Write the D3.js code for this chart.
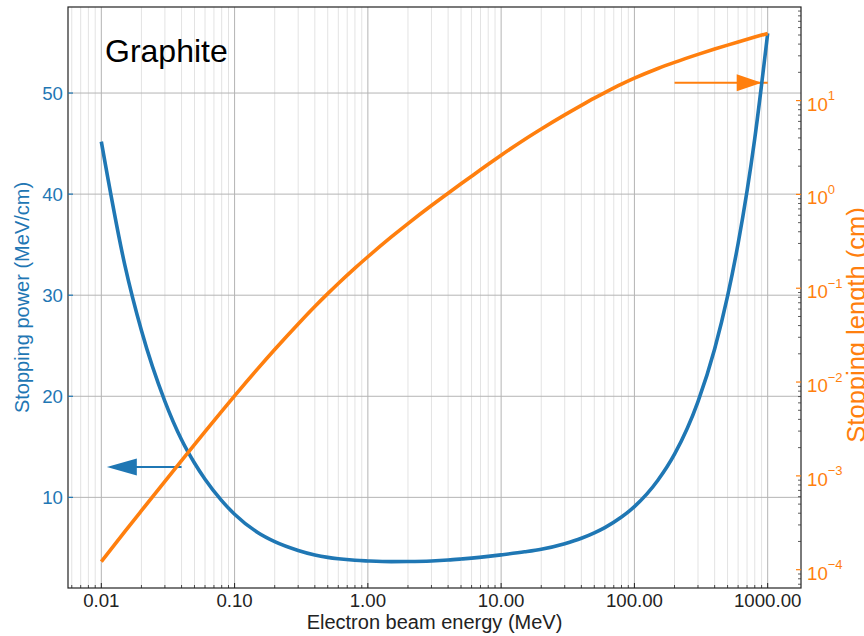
<!DOCTYPE html>
<html>
<head>
<meta charset="utf-8">
<script src="https://cdn.jsdelivr.net/npm/d3@7"></script>
<style>
  html, body { margin: 0; padding: 0; background: #fff; }
  svg { display: block; font-family: "Liberation Sans", Arial, sans-serif; }
</style>
</head>
<body>
<svg id="chart" width="864" height="636"></svg>
<script>
// ---- data ----
const energy = [0.01, 0.015, 0.02, 0.03, 0.04, 0.05, 0.06, 0.08, 0.1, 0.15, 0.2, 0.3, 0.4, 0.5, 0.6, 0.8,
  1, 1.5, 2, 3, 4, 5, 6, 8, 10, 15, 20, 30, 40, 50, 60, 80, 100, 150, 200, 300, 400, 500, 600, 800, 1000];
const stoppingPower = [45.2, 33.0, 26.5, 19.5, 15.7, 13.4, 11.8, 9.68, 8.33, 6.50, 5.62, 4.75, 4.30, 4.06, 3.92, 3.77,
  3.71, 3.645, 3.655, 3.71, 3.80, 3.90, 3.99, 4.16, 4.31, 4.61, 4.87, 5.42, 5.95, 6.49, 7.01, 8.05, 9.08, 11.69, 14.27, 19.48, 24.68, 29.9, 35.11, 45.51, 55.9];
const stoppingLength = [1.22e-4, 2.54e-4, 4.25e-4, 8.75e-4, 1.456e-3, 2.156e-3, 2.966e-3, 4.879e-3, 7.13e-3, 1.398e-2, 2.221e-2, 4.164e-2, 6.376e-2, 8.754e-2, 0.1124, 0.1638,
  0.2166, 0.3523, 0.489, 0.761, 1.029, 1.297, 1.564, 2.097, 2.615, 3.85, 4.98, 7.04, 8.90, 10.61, 12.16, 14.95, 17.32, 21.99, 25.56, 31.08, 35.4, 39.0, 42.15, 47.5, 52.0];
const xTicks = [0.01, 0.1, 1, 10, 100, 1000];
const xTickLabels = ["0.01", "0.10", "1.00", "10.00", "100.00", "1000.00"];
const yLeftTicks = [10, 20, 30, 40, 50];
const yRightTicks = [1e-4, 1e-3, 1e-2, 1e-1, 1, 10];
const yRightExponents = ["\u22124", "\u22123", "\u22122", "\u22121", "0", "1"];
const titleText = "Graphite";
const xLabel = "Electron beam energy (MeV)";
const yLeftLabel = "Stopping power (MeV/cm)";
const yRightLabel = "Stopping length (cm)";
// annotation arrows in data units: [xFrom, xTo, y]
const blueArrow = [0.04, 0.011, 13];
const orangeArrow = [200, 1000, 15.5];

// ---- layout ----
const blue = "#1f77b4", orange = "#ff7f0e";
const L = 68, R = 801, T = 7, B = 588;
const fs = 18.67, labelFs = 20;

const svg = d3.select("#chart");

const lx0 = Math.log10(d3.min(energy)), lx1 = Math.log10(d3.max(energy));
const mx = (lx1 - lx0) * 0.05;
const x = d3.scaleLog().domain([10 ** (lx0 - mx), 10 ** (lx1 + mx)]).range([L, R]);

const sp0 = d3.min(stoppingPower), sp1 = d3.max(stoppingPower), msp = (sp1 - sp0) * 0.05;
const yL = d3.scaleLinear().domain([sp0 - msp, sp1 + msp]).range([B, T]);

const ly0 = Math.log10(d3.min(stoppingLength)), ly1 = Math.log10(d3.max(stoppingLength));
const my = (ly1 - ly0) * 0.05;
const yR = d3.scaleLog().domain([10 ** (ly0 - my), 10 ** (ly1 + my)]).range([B, T]);

// ---- grid ----
const grid = svg.append("g");
const [xd0, xd1] = x.domain();
const minorX = [];
for (let e = -3; e <= 3; e++) for (let m = 2; m <= 9; m++) {
  const v = m * 10 ** e; if (v > xd0 && v < xd1) minorX.push(v);
}
grid.selectAll(".mgx").data(minorX).join("line")
  .attr("x1", d => x(d)).attr("x2", d => x(d)).attr("y1", T).attr("y2", B)
  .attr("stroke", "#e3e3e3").attr("stroke-width", 1);
grid.selectAll(".Mgx").data(xTicks).join("line")
  .attr("x1", d => x(d)).attr("x2", d => x(d)).attr("y1", T).attr("y2", B)
  .attr("stroke", "#b4b4b4").attr("stroke-width", 1);
grid.selectAll(".Mgy").data(yLeftTicks).join("line")
  .attr("x1", L).attr("x2", R).attr("y1", d => yL(d)).attr("y2", d => yL(d))
  .attr("stroke", "#b4b4b4").attr("stroke-width", 1);

// ---- orange arrow (under blue curve) ----
const oa = svg.append("g");
const oy = yR(orangeArrow[2]), otip = x(orangeArrow[1]) - 6;
oa.append("line").attr("x1", x(orangeArrow[0])).attr("x2", x(orangeArrow[1]))
  .attr("y1", oy).attr("y2", oy).attr("stroke", orange).attr("stroke-width", 2);
oa.append("path").attr("d", `M${otip},${oy} L${otip - 25},${oy - 8.5} L${otip - 25},${oy + 8.5} Z`)
  .attr("fill", orange);

// ---- curves ----
const pts = energy.map((e, i) => ({ e, sp: stoppingPower[i], sl: stoppingLength[i] }));
svg.append("path").datum(pts)
  .attr("d", d3.line().x(d => x(d.e)).y(d => yL(d.sp)).curve(d3.curveMonotoneX))
  .attr("fill", "none").attr("stroke", blue).attr("stroke-width", 3.6);

// blue arrow
const ba = svg.append("g");
const by = yL(blueArrow[2]), btip = x(blueArrow[1]), bstart = x(blueArrow[0]);
ba.append("line").attr("x1", bstart).attr("x2", btip + 28).attr("y1", by).attr("y2", by)
  .attr("stroke", blue).attr("stroke-width", 2);
ba.append("path").attr("d", `M${btip},${by} L${btip + 30},${by - 8.5} L${btip + 30},${by + 8.5} Z`)
  .attr("fill", blue);

svg.append("path").datum(pts)
  .attr("d", d3.line().x(d => x(d.e)).y(d => yR(d.sl)).curve(d3.curveMonotoneX))
  .attr("fill", "none").attr("stroke", orange).attr("stroke-width", 3.6);

// ---- frame ----
svg.append("rect").attr("x", L).attr("y", T).attr("width", R - L).attr("height", B - T)
  .attr("fill", "none").attr("stroke", "#222").attr("stroke-width", 1.2);

// ---- x ticks (inward) ----
const xt = svg.append("g");
xt.selectAll(".mt").data(minorX).join("line")
  .attr("x1", d => x(d)).attr("x2", d => x(d)).attr("y1", B).attr("y2", B - 3)
  .attr("stroke", "#222").attr("stroke-width", 0.8);
xt.selectAll(".Mt").data(xTicks).join("line")
  .attr("x1", d => x(d)).attr("x2", d => x(d)).attr("y1", B).attr("y2", B - 5)
  .attr("stroke", "#222").attr("stroke-width", 1);
xt.selectAll("text").data(xTicks).join("text")
  .attr("x", d => x(d)).attr("y", 606.5).attr("text-anchor", "middle")
  .attr("font-size", fs).attr("fill", "#222").text((d, i) => xTickLabels[i]);

// ---- left ticks ----
const yl = svg.append("g");
yl.selectAll("line").data(yLeftTicks).join("line")
  .attr("x1", L).attr("x2", L + 5).attr("y1", d => yL(d)).attr("y2", d => yL(d))
  .attr("stroke", blue).attr("stroke-width", 1.2);
yl.selectAll("text").data(yLeftTicks).join("text")
  .attr("x", 63).attr("y", d => yL(d)).attr("dy", "0.35em").attr("text-anchor", "end")
  .attr("font-size", fs).attr("fill", blue).text(d => d);

// ---- right ticks (log) ----
const yr = svg.append("g");
const [yd0, yd1] = yR.domain();
const minorY = [];
for (let e = -6; e <= 2; e++) for (let m = 2; m <= 9; m++) {
  const v = m * 10 ** e; if (v > yd0 && v < yd1) minorY.push(v);
}
yr.selectAll(".mt").data(minorY).join("line")
  .attr("x1", R).attr("x2", R - 3).attr("y1", d => yR(d)).attr("y2", d => yR(d))
  .attr("stroke", "#333").attr("stroke-width", 0.8);
yr.selectAll(".Mt").data(yRightTicks).join("line")
  .attr("x1", R).attr("x2", R - 5).attr("y1", d => yR(d)).attr("y2", d => yR(d))
  .attr("stroke", orange).attr("stroke-width", 1.2);
const rl = yr.selectAll("text").data(yRightTicks).join("text")
  .attr("x", 807).attr("y", d => yR(d) + 10).attr("font-size", fs).attr("fill", orange);
rl.append("tspan").text("10");
rl.append("tspan").attr("font-size", 13).attr("dy", -10.5).text((d, i) => yRightExponents[i]);

// ---- labels ----
svg.append("text").attr("x", (L + R) / 2).attr("y", 629).attr("text-anchor", "middle")
  .attr("font-size", labelFs).attr("fill", "#222").text(xLabel);
svg.append("text").attr("transform", `translate(22,${(T + B) / 2}) rotate(-90)`)
  .attr("text-anchor", "middle").attr("dy", "0.35em")
  .attr("font-size", labelFs).attr("fill", blue).text(yLeftLabel);
svg.append("text").attr("transform", `translate(856,325) rotate(-90)`)
  .attr("text-anchor", "middle").attr("dy", "0.35em")
  .attr("font-size", 25.5).attr("fill", orange).text(yRightLabel);

svg.append("text").attr("x", 105).attr("y", 62).attr("font-size", 32).attr("fill", "#000").text(titleText);
</script>
</body>
</html>
